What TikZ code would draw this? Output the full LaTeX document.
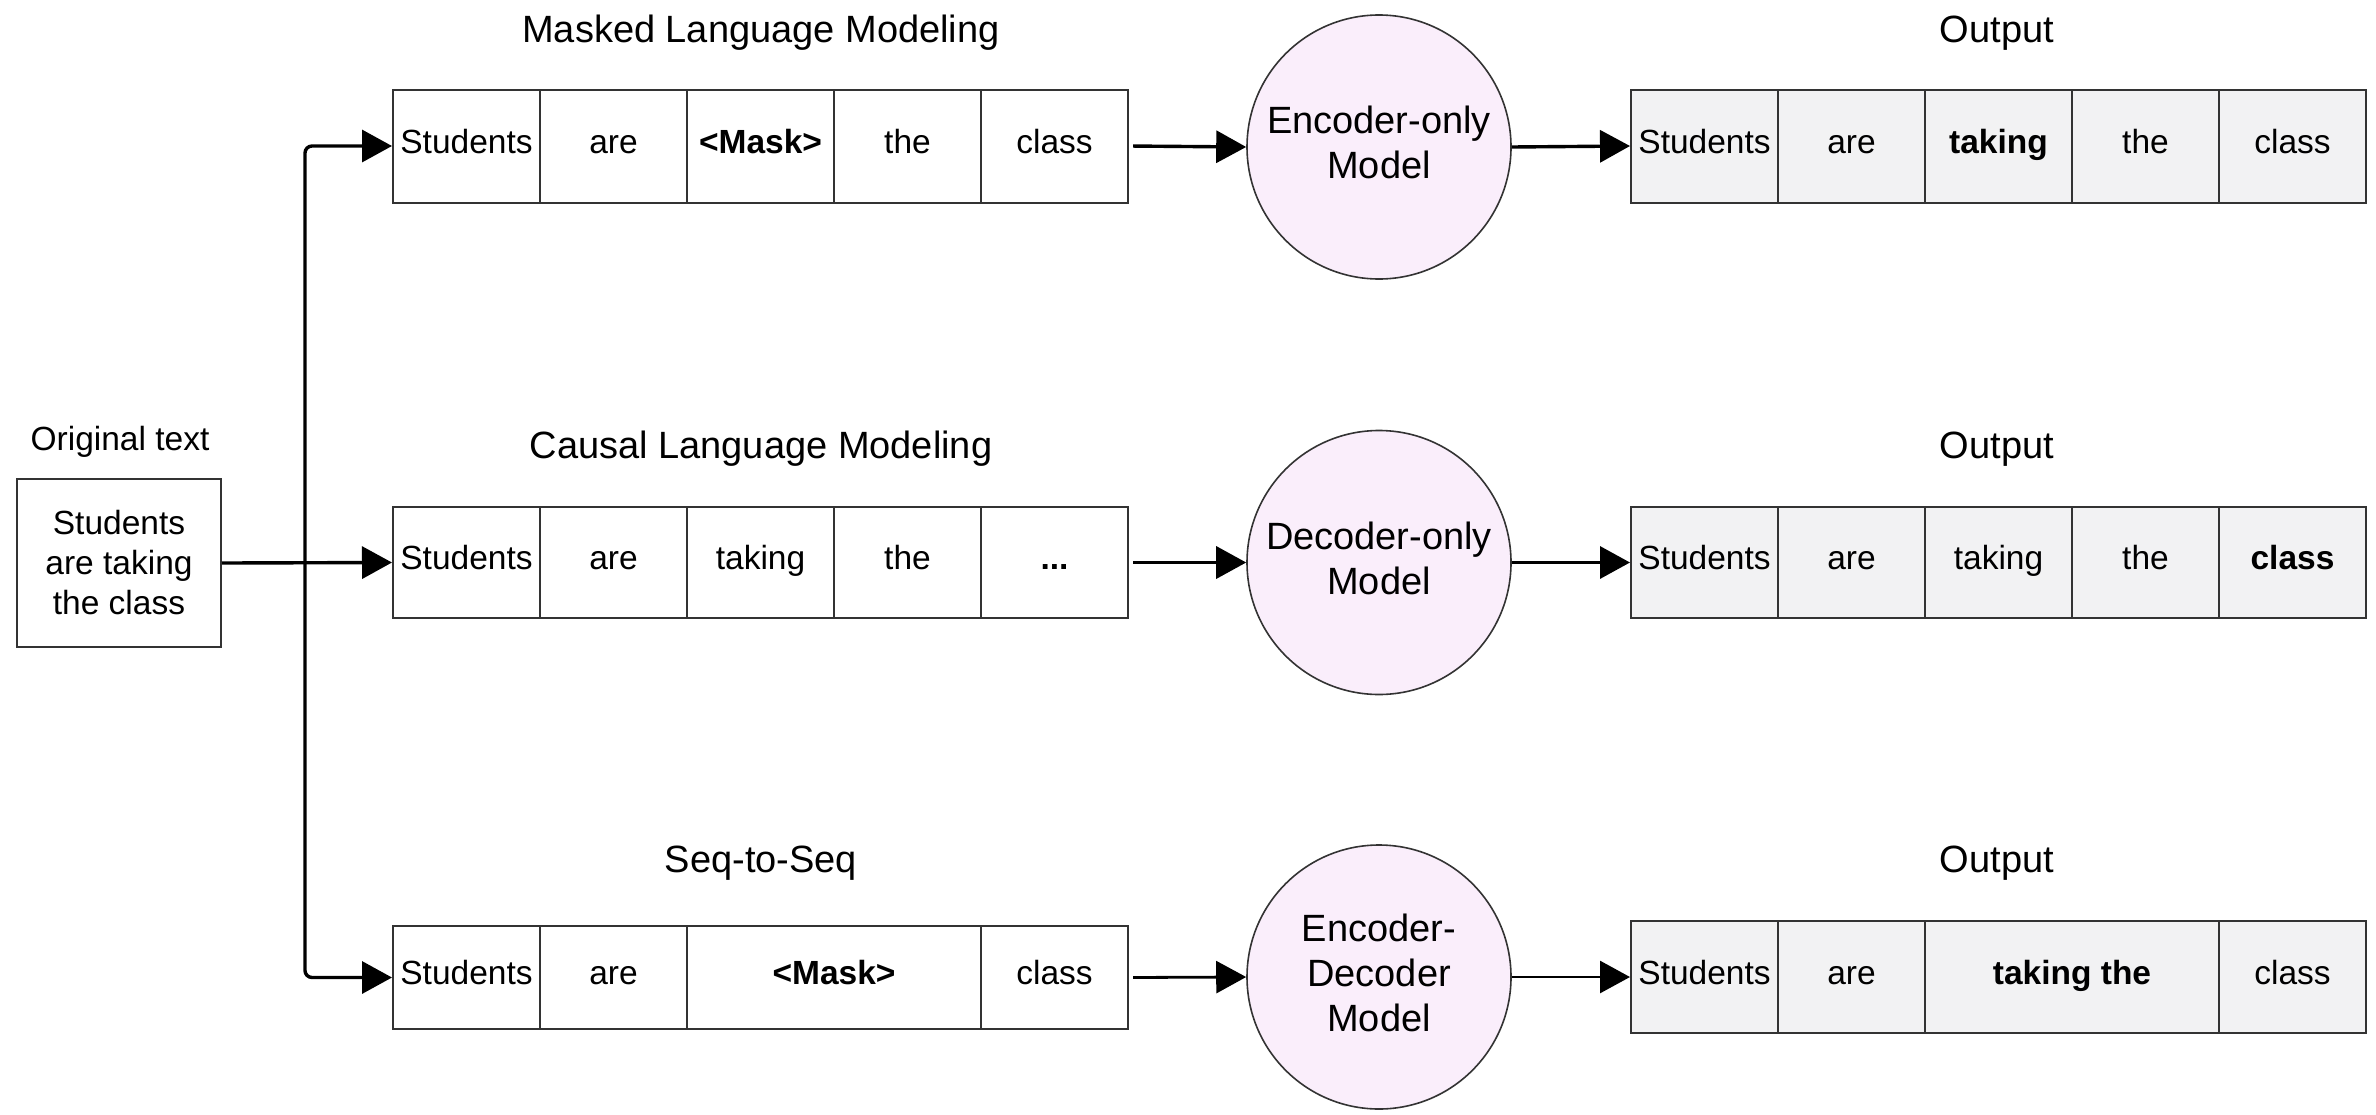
\documentclass[tikz,border=0pt]{standalone}
\usepackage{fontspec}
\setmainfont{Liberation Sans}
\usetikzlibrary{arrows.meta}
\definecolor{edgegray}{HTML}{333333}
\definecolor{outfill}{HTML}{F2F2F3}
\definecolor{modfill}{HTML}{FAEEFB}
\newcommand{\modeltext}[2][6pt]{\raisebox{#1}{\begin{tabular}{@{}c@{}}#2\end{tabular}}}
\begin{document}
\begin{tikzpicture}[x=1pt,y=-1pt,
  cellbox/.style={draw=edgegray, line width=2pt, minimum width=147pt, inner sep=0pt, anchor=west, text height=25pt, text depth=11pt, font=\fontsize{33.5}{40}\selectfont},
  incell/.style={cellbox, fill=white},
  outcell/.style={cellbox, fill=outfill},
  modelnode/.style={circle, draw=edgegray, line width=1.6pt, fill=modfill, minimum size=264pt, inner sep=0pt, align=center, font=\fontsize{38}{45}\selectfont},
  titlelabel/.style={font=\fontsize{38}{45}\selectfont, inner sep=0pt},
  conn/.style={line width=3.4pt, -{Triangle[length=30pt,width=32pt]}},
]
\fill[white] (0,0) rectangle (2376,1114);
\useasboundingbox (0,0) rectangle (2376,1114);

% original text
\node[font=\fontsize{33.5}{40}\selectfont, inner sep=0pt] (origlbl) at (120,442) {Original text};
\node[draw=edgegray, line width=2pt, minimum width=204pt, minimum height=168pt, inner sep=0pt, align=center, font=\fontsize{33.5}{40}\selectfont] (orig) at (119,563) {Students\\are taking\\the class};

% titles
\node[titlelabel] (t1) at (761,33) {Masked Language Modeling};
\node[titlelabel] (t2) at (761,449) {Causal Language Modeling};
\node[titlelabel] (t3) at (761,863) {Seq-to-Seq};
\node[titlelabel] (o1) at (1997,33) {Output};
\node[titlelabel] (o2) at (1997,449) {Output};
\node[titlelabel] (o3) at (1997,863) {Output};

% row 1
\begin{scope}[every node/.append style={minimum height=113pt}]
\node[incell] (a1) at (392,146) {Students};
\node[incell] (a2) at (539,146) {are};
\node[incell] (a3) at (686,146) {\textbf{<Mask>}};
\node[incell] (a4) at (833,146) {the};
\node[incell] (a5) at (980,146) {class};
\node[outcell] (b1) at (1630,146) {Students};
\node[outcell] (b2) at (1777,146) {are};
\node[outcell] (b3) at (1924,146) {\textbf{taking}};
\node[outcell] (b4) at (2071,146) {the};
\node[outcell] (b5) at (2218,146) {class};
\end{scope}

% row 2
\begin{scope}[every node/.append style={minimum height=111pt}]
\node[incell] (c1) at (392,562.5) {Students};
\node[incell] (c2) at (539,562.5) {are};
\node[incell] (c3) at (686,562.5) {taking};
\node[incell] (c4) at (833,562.5) {the};
\node[incell] (c5) at (980,562.5) {\textbf{...}};
\node[outcell] (d1) at (1630,562.5) {Students};
\node[outcell] (d2) at (1777,562.5) {are};
\node[outcell] (d3) at (1924,562.5) {taking};
\node[outcell] (d4) at (2071,562.5) {the};
\node[outcell] (d5) at (2218,562.5) {\textbf{class}};
\end{scope}

% row 3
\begin{scope}[every node/.append style={minimum height=103pt}]
\node[incell] (e1) at (392,977.5) {Students};
\node[incell] (e2) at (539,977.5) {are};
\node[incell, minimum width=294pt] (e3) at (686,977.5) {\textbf{<Mask>}};
\node[incell] (e4) at (980,977.5) {class};
\end{scope}
\begin{scope}[every node/.append style={minimum height=112pt}]
\node[outcell] (f1) at (1630,977) {Students};
\node[outcell] (f2) at (1777,977) {are};
\node[outcell, minimum width=294pt] (f3) at (1924,977) {\textbf{taking the}};
\node[outcell] (f4) at (2218,977) {class};
\end{scope}

% models
\node[modelnode] (m1) at (1379,147) {\modeltext{Encoder-only\\Model}};
\node[modelnode] (m2) at (1379,562.5) {\modeltext{Decoder-only\\Model}};
\node[modelnode] (m3) at (1379,977) {\modeltext[5pt]{Encoder-\\Decoder\\Model}};

% connectors
\coordinate (jn) at (305,563);
\draw[conn] (orig.east) -- (c1.west);
\draw[conn, rounded corners=7pt] (jn) |- (a1.west);
\draw[conn, rounded corners=7pt] (jn) |- (e1.west);

\draw[conn, shorten <=4pt] (a5.east) -- (m1.west);
\draw[conn, shorten <=4pt] (c5.east) -- (m2.west);
\draw[conn, line width=2.8pt, shorten <=4pt] (e4.east) -- (m3.west);

\draw[conn] (m1.east) -- (b1.west);
\draw[conn] (m2.east) -- (d1.west);
\draw[conn, line width=2.8pt] (m3.east) -- (f1.west);
\end{tikzpicture}
\end{document}
